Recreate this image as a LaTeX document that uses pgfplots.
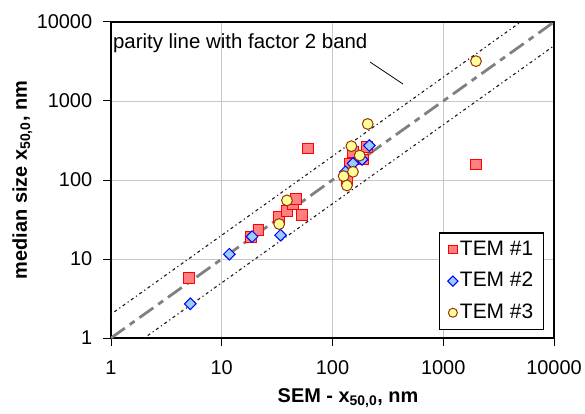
\documentclass[border=0pt]{standalone}
\usepackage{pgfplots}
\pgfplotsset{compat=1.18}
\usepackage{fontspec}
\setmainfont{Liberation Sans}
\definecolor{sqfill}{RGB}{255,128,128}
\definecolor{dmfill}{RGB}{153,204,255}
\definecolor{cifill}{RGB}{255,255,153}
\definecolor{ciedge}{RGB}{153,51,0}
\begin{document}
\fontsize{20}{24}\selectfont
\begin{tikzpicture}
\useasboundingbox (-111bp,-76bp) rectangle (474bp,338bp);
\begin{axis}[
  scale only axis, width=443bp, height=316bp,
  xmode=log, ymode=log,
  xmin=1, xmax=10000, ymin=1, ymax=10000,
  log ticks with fixed point,
  /pgf/number format/1000 sep={},
  /pgf/number format/assume math mode=true,
  xtick={1,10,100,1000,10000}, ytick={1,10,100,1000,10000},
  xminorticks=false, yminorticks=false,
  grid=major, major grid style={draw=black!22, line width=0.6pt},
  axis line style={line width=1.1pt},
  tick style={black, line width=1pt},
  major tick length=8bp,
  tick align=outside,
  xtick pos=bottom, ytick pos=left,
  ticklabel style={font=\fontsize{20}{24}\selectfont},
  xticklabel style={yshift=-8bp},
  yticklabel style={xshift=-4bp},
  xlabel={\textbf{SEM - x\textsubscript{50,0}, nm}},
  ylabel={\textbf{median size x\textsubscript{50,0}, nm}},
  x label style={at={(axis description cs:0.535,-0.19)}, anchor=center, font=\fontsize{20}{24}\selectfont},
  y label style={at={(axis description cs:-0.2,0.5)}, anchor=center, rotate=0, font=\fontsize{20}{24}\selectfont},
  legend style={at={(rel axis cs:0.977,0.025)}, anchor=south east, draw=black, line width=1.2pt,
    font=\fontsize{21}{24}\selectfont, row sep=10bp, inner xsep=8bp, inner ysep=6bp},
  legend cell align=left,
  clip=true,
]
% parity and band lines
\addplot[forget plot, draw=black!90, line width=1.1pt, dash pattern=on 1.2bp off 3bp on 3bp off 3bp] coordinates {(1,2) (5000,10000)};
\addplot[forget plot, draw=black!90, line width=1.1pt, dash pattern=on 1.2bp off 3bp on 3bp off 3bp] coordinates {(2,1) (10000,5000)};
\addplot[forget plot, draw=black!50, line width=2.8pt, dash pattern=on 17bp off 6bp on 6bp off 6bp] coordinates {(1,1) (10000,10000)};
% TEM #1
\addplot[only marks, mark=square*, mark size=5.4bp, mark options={fill=sqfill, draw=red, line width=1pt},
  legend image post style={mark size=4.3bp}] coordinates {
(5.07,5.77) (18.5,19.2) (21.5,23.3) (33,34.3) (38.8,40.9) (44,49.6) (47.1,57.4) (52.6,35.7)
(59.7,250) (135,99.6) (145,162) (152,227) (205,262) (188,182) (1987,157)
};
\addlegendentry{TEM \#1}
% TEM #2
\addplot[only marks, mark=square*, mark size=4.1bp, mark options={rotate=45, fill=dmfill, draw=blue, line width=1pt},
  legend image post style={mark size=3.6bp}] coordinates {
(5.2,2.71) (11.7,11.5) (18.8,19.2) (34,20) (131,127) (153,162) (185,182) (215,273)
};
\addlegendentry{TEM \#2}
% TEM #3
\addplot[only marks, mark=*, mark size=5.4bp, mark options={fill=cifill, draw=ciedge, line width=1pt},
  legend image post style={mark size=4.5bp}] coordinates {
(33,27.7) (38.8,55.2) (126,112) (135,85.3) (153,127) (148,268) (176,204) (208,512) (1974,3194)
};
\addlegendentry{TEM \#3}
\draw[black, line width=0.8pt] (axis cs:218,3118) -- (axis cs:433,1641);
\node[anchor=west, inner sep=0pt, font=\fontsize{20.5}{24}\selectfont] at (axis cs:1.04,5420) {parity line with factor 2 band};
\end{axis}
\end{tikzpicture}
\end{document}
